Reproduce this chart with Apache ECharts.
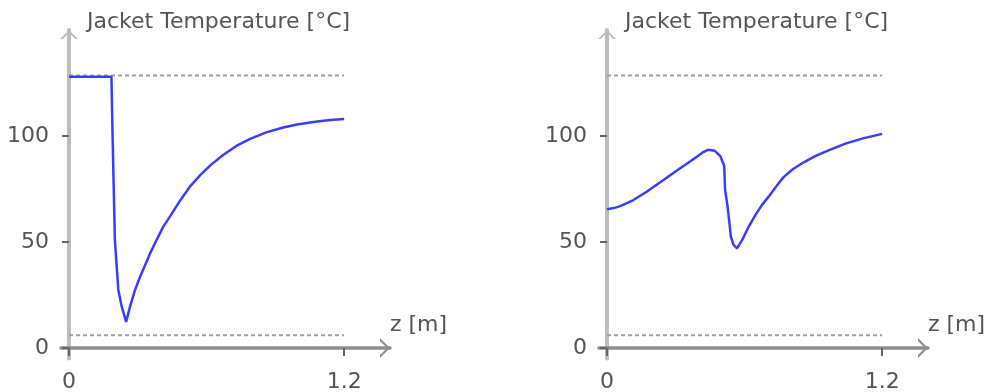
<!DOCTYPE html>
<html>
<head>
<meta charset="utf-8">
<script src="https://cdn.jsdelivr.net/npm/echarts@6/dist/echarts.min.js"></script>
<style>
html,body{margin:0;padding:0;background:#fff;}
#chart{width:995px;height:392px;}
</style>
</head>
<body>
<div id="chart"></div>
<script>
// ---- data ----
const titleText = 'Jacket Temperature [°C]';
const xName = 'z [m]';
const xTicks = [0, 1.2];
const yTicks = [0, 50, 100];
const boundZ = [0, 1.2];
const tUpper = 128.5;
const tLower = 6;

const zLeft = [0, 0.185, 0.19, 0.2, 0.215, 0.23, 0.249, 0.266, 0.288, 0.31, 0.332, 0.353, 0.375, 0.41, 0.44, 0.484, 0.53, 0.572, 0.62, 0.672, 0.73, 0.79, 0.86, 0.934, 1.0, 1.082, 1.14, 1.2];
const tLeft = [128, 128, 100, 51, 27.4, 19.5, 12.3, 19.5, 27.4, 33.6, 39.2, 44.5, 49.4, 57, 62, 69.5, 76.5, 81.5, 86.5, 91, 95.3, 98.6, 101.7, 104, 105.5, 106.8, 107.5, 108];

const zRight = [0, 0.03, 0.057, 0.115, 0.173, 0.246, 0.319, 0.392, 0.42, 0.44, 0.47, 0.494, 0.511, 0.515, 0.526, 0.534, 0.54, 0.552, 0.567, 0.589, 0.618, 0.647, 0.676, 0.705, 0.74, 0.77, 0.81, 0.858, 0.91, 0.974, 1.04, 1.12, 1.2];
const tRight = [65.5, 66, 66.9, 69.8, 73.7, 79.2, 84.8, 90.2, 92.4, 93.5, 93, 90.5, 86, 74.5, 66.6, 58.8, 52.5, 48.6, 47, 50.9, 57.2, 62.7, 67.5, 71.4, 76.5, 80.6, 84.3, 87.6, 90.6, 93.6, 96.4, 99, 101];

// ---- helpers ----
function pairs(xs, ys) { return xs.map((x, i) => [x, ys[i]]); }
const FONT = 'DejaVu Sans';
const TXT = '#555';
const chevron = 'path://M0,10 L10,0 L20,10 L17,10 L10,3 L3,10 Z';

function makeX(gridIndex) {
  return {
    type: 'value', gridIndex: gridIndex, min: -0.035, max: 1.4,
    name: xName, nameLocation: 'end', nameGap: 0,
    nameTextStyle: { fontFamily: FONT, fontSize: 22, color: TXT, align: 'left', verticalAlign: 'bottom', padding: [0, 0, 12, 0] },
    axisLine: { onZero: true, symbol: ['none', chevron], symbolSize: [20, 10], symbolOffset: [0, -5],
      lineStyle: { color: '#8e8e8e', width: 3.5 } },
    axisTick: { show: true, length: 8, customValues: xTicks, lineStyle: { color: '#666', width: 2 } },
    axisLabel: { customValues: xTicks, margin: 13, fontFamily: FONT, fontSize: 22, color: TXT,
      formatter: v => String(v) },
    splitLine: { show: false }
  };
}
function makeY(gridIndex) {
  return {
    type: 'value', gridIndex: gridIndex, min: -5, max: 150,
    name: titleText, nameLocation: 'end', nameGap: -4,
    nameTextStyle: { fontFamily: FONT, fontSize: 22, color: TXT, align: 'left', verticalAlign: 'bottom', lineHeight: 24, padding: [0, 0, 0, 18] },
    axisLine: { onZero: true, symbol: ['none', chevron], symbolSize: [20, 9], symbolOffset: [0, -4.5],
      lineStyle: { color: '#bdbdbd', width: 4 } },
    axisTick: { show: true, length: 7, customValues: yTicks, lineStyle: { color: '#666', width: 2 } },
    axisLabel: { customValues: yTicks, margin: 12, fontFamily: FONT, fontSize: 22, color: TXT },
    splitLine: { show: false }
  };
}
function boundSeries(idx, val) {
  return {
    type: 'line', xAxisIndex: idx, yAxisIndex: idx, data: boundZ.map(z => [z, val]),
    showSymbol: false, silent: true,
    lineStyle: { color: '#a0a0a0', width: 2, type: [4, 3] }
  };
}
function curveSeries(idx, xs, ys) {
  return {
    type: 'line', xAxisIndex: idx, yAxisIndex: idx, data: pairs(xs, ys),
    showSymbol: false, silent: true, z: 5,
    lineStyle: { color: '#3b3bff', width: 2.5 }
  };
}

const chart = echarts.init(document.getElementById('chart'), null, { renderer: 'canvas' });
chart.setOption({
  animation: false,
  backgroundColor: '#fff',
  grid: [
    { left: 61, top: 30, width: 329, height: 328.6, containLabel: false, outerBoundsMode: 'none' },
    { left: 599, top: 30, width: 329, height: 328.6, containLabel: false, outerBoundsMode: 'none' }
  ],
  xAxis: [makeX(0), makeX(1)],
  yAxis: [makeY(0), makeY(1)],
  series: [
    boundSeries(0, tUpper), boundSeries(0, tLower), curveSeries(0, zLeft, tLeft),
    boundSeries(1, tUpper), boundSeries(1, tLower), curveSeries(1, zRight, tRight)
  ]
});
</script>
</body>
</html>
